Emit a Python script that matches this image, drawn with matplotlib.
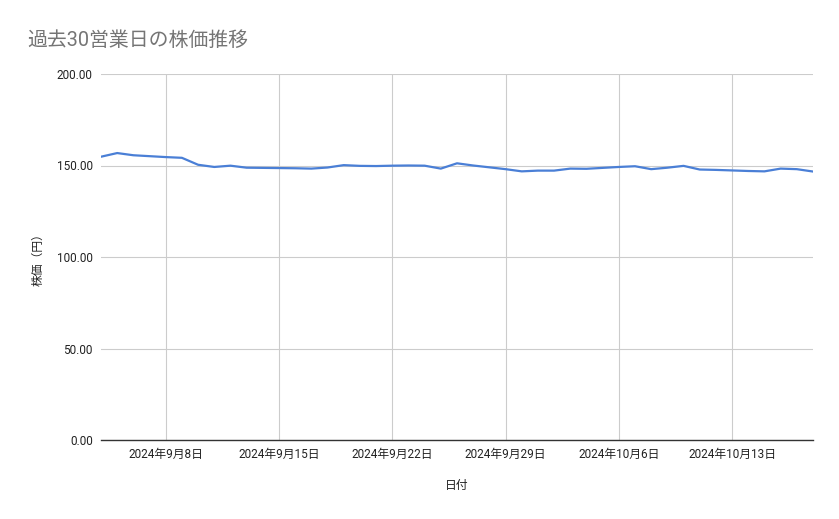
import matplotlib
matplotlib.use('Agg')
import matplotlib.pyplot as plt
import matplotlib.dates as mdates
import numpy as np
import pandas as pd

plt.rcParams['font.family'] = ['Roboto', 'Noto Sans CJK JP', 'DejaVu Sans']

dates = pd.date_range('2024-09-04', '2024-10-18', freq='D')
prices = [
    154.8, 156.8, 155.6, 155.1, 154.6, 154.2, 150.4, 149.2, 149.9, 148.8,
    148.7, 148.6, 148.5, 148.3, 148.9, 150.2, 149.8, 149.7, 149.9, 150.0,
    149.9, 148.3, 151.2, 150.0, 149.0, 148.0, 146.8, 147.2, 147.2, 148.3,
    148.2, 148.7, 149.2, 149.6, 148.0, 148.8, 149.8, 147.8, 147.6, 147.3,
    147.0, 146.8, 148.3, 148.0, 146.7,
]
tick_dates = pd.to_datetime(['2024-09-08', '2024-09-15', '2024-09-22',
                             '2024-09-29', '2024-10-06', '2024-10-13'])
tick_labels = [f'{d.year}年{d.month}月{d.day}日' for d in tick_dates]
y_ticks = [0, 50, 100, 150, 200]

fig = plt.figure(figsize=(8.39, 5.19), dpi=100)
ax = fig.add_axes([101 / 839, 1 - 440 / 519, 712 / 839, 366 / 519])

ax.plot(dates, prices, color='#4a7fd6', linewidth=1.6)

ax.set_xlim(dates[0], dates[-1])
ax.set_ylim(0, 200)
ax.set_yticks(y_ticks)
ax.set_yticklabels([f'{v:.2f}' for v in y_ticks])
ax.set_xticks(tick_dates)
ax.set_xticklabels(tick_labels)

ax.grid(True, color='#cccccc', linewidth=0.8)
ax.set_axisbelow(True)
for s in ['top', 'right', 'left']:
  ax.spines[s].set_visible(False)
ax.spines['bottom'].set_color('#333333')
ax.spines['bottom'].set_linewidth(1.0)
ax.tick_params(length=0, labelsize=8.5, colors='#222222')
ax.tick_params(axis='y', pad=6)
ax.tick_params(axis='x', pad=6)

ax.set_xlabel('日付', fontsize=8.5, labelpad=13, color='#222222')
ax.set_ylabel('株価（円）', fontsize=8.5, labelpad=9, color='#222222')

fig.text(27 / 839, 1 - 40 / 519, '過去30営業日の株価推移', fontsize=14.3,
         color='#757575', va='center', ha='left')

fig.savefig('out.png', dpi=100)
